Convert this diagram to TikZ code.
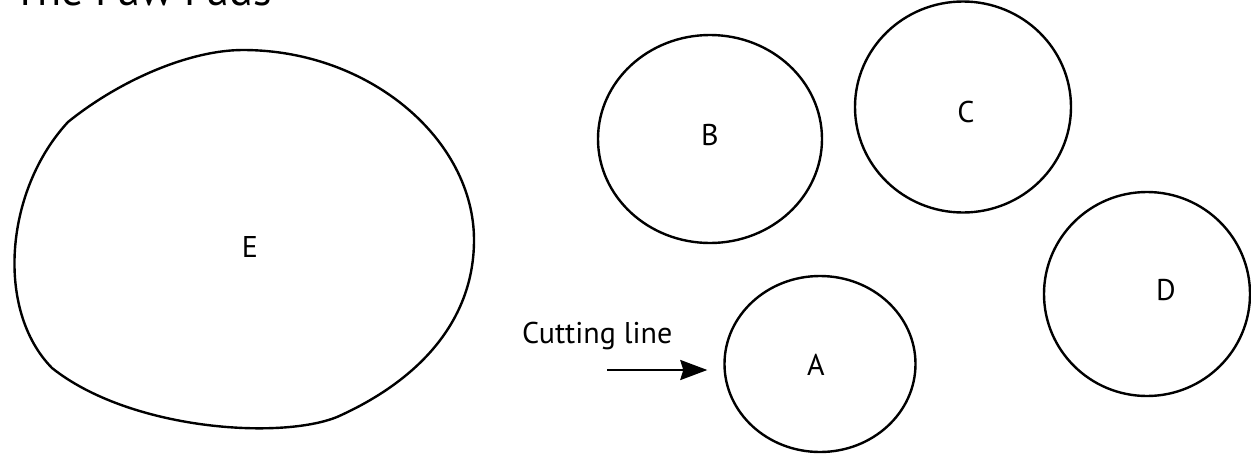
\documentclass[tikz,border=0pt]{standalone}
\usepackage{fontspec}
\setmainfont{PT Sans}
\usetikzlibrary{shapes.geometric,arrows.meta}
\begin{document}
\begin{tikzpicture}[x=1pt,y=-1pt,
  outline/.style={draw=black,line width=2.4pt},
  pad/.style={outline,ellipse,inner sep=0pt},
  lbl/.style={font=\fontsize{30}{36}\selectfont,inner sep=0pt},
  cutarrow/.style={line width=2.4pt,-{Stealth[length=27pt,width=20pt,inset=3pt]}}]
\useasboundingbox (0,0) rectangle (1251,453);
\fill[white] (0,0) rectangle (1251,453);
% title (clipped at top)
\node[anchor=base west,inner sep=0pt,font=\fontsize{44}{52}\selectfont] (title) at (13,5) {The Paw Pads};
% pad E (freehand outline)
\draw[outline] (68,122) .. controls (120,80) and (190,50) .. (243,50)
  .. controls (370,50) and (474,140) .. (474,240)
  .. controls (474,320) and (420,380) .. (337,417)
  .. controls (280,440) and (130,430) .. (52,368)
  .. controls (-5,310) and (5,190) .. cycle;
\node[lbl] (E) at (250,247) {E};
% pads
\node[pad,minimum width=224pt,minimum height=208pt] (padB) at (710,139) {};
\node[lbl] (B) at (710,135) {B};
\node[pad,minimum width=216pt,minimum height=211pt] (padC) at (963,107) {};
\node[lbl] (C) at (966,112) {C};
\node[pad,minimum width=206pt,minimum height=204pt] (padD) at (1147,294) {};
\node[lbl] (D) at (1166,290) {D};
\node[pad,minimum width=191pt,minimum height=176pt] (padA) at (820,364) {};
\node[lbl] (A) at (816,365) {A};
% cutting line
\node[lbl,anchor=base west] (cuttxt) at (522,343) {Cutting line};
\coordinate (cut) at (607,370);
\draw[cutarrow,shorten >=16pt] (cut) -- (cut -| padA.west);
\end{tikzpicture}
\end{document}
